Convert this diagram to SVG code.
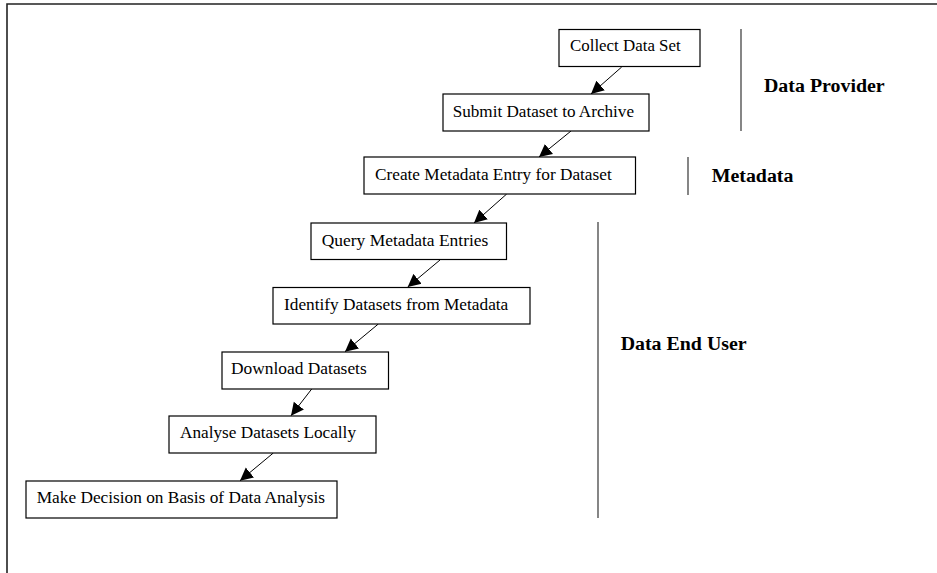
<svg xmlns="http://www.w3.org/2000/svg" width="937" height="573" viewBox="0 0 937 573">
<style>
.box{fill:#fff;stroke:#000;stroke-width:1.2}
.t{font-family:"Liberation Serif","Times New Roman",serif;font-size:17px;fill:#000}
.lbl{font-family:"Liberation Serif","Times New Roman",serif;font-size:18px;font-weight:bold;fill:#000}
.sep{stroke:#444;stroke-width:1.3}
.arr{stroke:#000;stroke-width:1;fill:none;marker-end:url(#ah)}
</style>
<defs>
<marker id="ah" markerUnits="userSpaceOnUse" markerWidth="14" markerHeight="14" viewBox="0 0 12 12" refX="11" refY="6" orient="auto">
<path d="M0,0.5 L11,6 L0,11.5 Z" fill="#000"/>
</marker>
</defs>
<rect width="937" height="573" fill="#fff"/>
<path d="M7,573 V4 H937" fill="none" stroke="#222" stroke-width="1.6"/>
<g id="connectors">
<line class="arr" x1="621.7" y1="67" x2="591" y2="94"/>
<line class="arr" x1="571" y1="131" x2="539" y2="157"/>
<line class="arr" x1="506.7" y1="194" x2="474" y2="223"/>
<line class="arr" x1="440" y1="260" x2="407.7" y2="287"/>
<line class="arr" x1="378.3" y1="324" x2="345" y2="351.7"/>
<line class="arr" x1="311.7" y1="389" x2="291" y2="415.7"/>
<line class="arr" x1="273.3" y1="453" x2="240" y2="480.7"/>
</g>
<g id="n1"><rect class="box" x="559" y="29.5" width="141" height="37"/><text class="t" x="570" y="51" textLength="110.7" lengthAdjust="spacingAndGlyphs">Collect Data Set</text></g>
<g id="n2"><rect class="box" x="443" y="94" width="206" height="37"/><text class="t" x="452.7" y="116.5" textLength="181.3" lengthAdjust="spacingAndGlyphs">Submit Dataset to Archive</text></g>
<g id="n3"><rect class="box" x="364" y="157" width="271.5" height="37"/><text class="t" x="375" y="180" textLength="236.7" lengthAdjust="spacingAndGlyphs">Create Metadata Entry  for Dataset</text></g>
<g id="n4"><rect class="box" x="311" y="223" width="195.5" height="36.5"/><text class="t" x="321.7" y="245.7" textLength="166.7" lengthAdjust="spacingAndGlyphs">Query Metadata Entries</text></g>
<g id="n5"><rect class="box" x="273" y="287.5" width="257" height="36.5"/><text class="t" x="284" y="309.7" textLength="224.3" lengthAdjust="spacingAndGlyphs">Identify Datasets from Metadata</text></g>
<g id="n6"><rect class="box" x="222" y="352" width="166.5" height="37"/><text class="t" x="231" y="374" textLength="135.7" lengthAdjust="spacingAndGlyphs">Download Datasets</text></g>
<g id="n7"><rect class="box" x="169" y="416" width="207" height="37"/><text class="t" x="180" y="438" textLength="176" lengthAdjust="spacingAndGlyphs">Analyse Datasets Locally</text></g>
<g id="n8"><rect class="box" x="26" y="481" width="311" height="37"/><text class="t" x="36.7" y="503.4" textLength="288.3" lengthAdjust="spacingAndGlyphs">Make Decision on Basis of Data Analysis</text></g>
<g id="lane-provider"><line class="sep" x1="741" y1="29" x2="741" y2="131"/><text class="lbl" x="764" y="91.5" textLength="120.7" lengthAdjust="spacingAndGlyphs">Data Provider</text></g>
<g id="lane-metadata"><line class="sep" x1="688" y1="157" x2="688" y2="195"/><text class="lbl" x="711.7" y="182.2" textLength="81.7" lengthAdjust="spacingAndGlyphs">Metadata</text></g>
<g id="lane-enduser"><line class="sep" x1="598" y1="222" x2="598" y2="518"/><text class="lbl" x="620.7" y="349.8" textLength="126" lengthAdjust="spacingAndGlyphs">Data End User</text></g>
</svg>
